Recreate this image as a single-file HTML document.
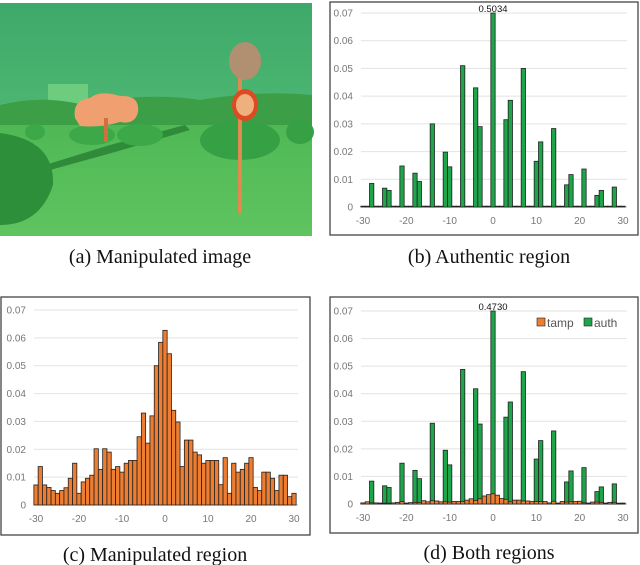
<!DOCTYPE html>
<html><head><meta charset="utf-8">
<style>
html,body{margin:0;padding:0;background:#fff;width:640px;height:565px;overflow:hidden}
svg{display:block}
.cap{font-family:"Liberation Serif",serif;font-size:20px;fill:#111}
.tk{font-family:"Liberation Sans",sans-serif;font-size:10px;fill:#777}
</style></head><body>
<svg id="fig" width="640" height="565" viewBox="0 0 640 565">
  <g id="photo">
    <defs>
      <linearGradient id="sky" x1="0" y1="0" x2="0" y2="1">
        <stop offset="0" stop-color="#3ea96a"/><stop offset="1" stop-color="#5cc47a"/>
      </linearGradient>
      <linearGradient id="grass" x1="0" y1="0" x2="0" y2="1">
        <stop offset="0" stop-color="#4fb855"/><stop offset="1" stop-color="#5fc45f"/>
      </linearGradient>
    </defs>
    <rect x="0" y="3" width="312" height="233" fill="url(#sky)"/>
    <rect x="48" y="84" width="40" height="28" fill="#6dcc7e"/>
    <path d="M0 105 Q40 95 80 104 Q150 92 200 100 Q260 90 312 95 L312 135 L0 135Z" fill="#3c9f48"/>
    <rect x="0" y="125" width="312" height="111" fill="url(#grass)"/>
    <path d="M45 165 L110 145 L185 125 L190 130 L115 152 L50 170Z" fill="#2f8a3a"/>
    <ellipse cx="92" cy="135" rx="23" ry="10" fill="#3da848"/>
    <ellipse cx="140" cy="135" rx="23" ry="11" fill="#3da848"/>
    <ellipse cx="35" cy="132" rx="10" ry="8" fill="#3da848"/>
    <ellipse cx="240" cy="140" rx="40" ry="20" fill="#36a044"/>
    <ellipse cx="300" cy="132" rx="14" ry="12" fill="#36a044"/>
    <path d="M0 133 Q55 140 53 185 Q40 225 0 225Z" fill="#2e8f3a"/>
    <g>
      <path d="M75 118 Q72 100 90 98 Q100 90 120 96 Q140 95 138 112 Q135 125 120 122 Q100 128 80 126Z" fill="#f0a070"/>
      <rect x="104" y="118" width="4" height="24" fill="#d0703e"/>
    </g>
    <g>
      <rect x="238" y="75" width="4" height="138" fill="#e08a50"/>
      <ellipse cx="245" cy="61" rx="16" ry="19" fill="#b09070"/>
      <ellipse cx="245" cy="105" rx="13" ry="16" fill="#e04a22"/>
      <ellipse cx="245" cy="105" rx="9" ry="11" fill="#efb080"/>
    </g>
  </g>
  <text class="cap" x="160" y="263" text-anchor="middle">(a) Manipulated image</text>
  <text class="cap" x="489" y="263" text-anchor="middle">(b) Authentic region</text>
  <text class="cap" x="155" y="561" text-anchor="middle">(c) Manipulated region</text>
  <text class="cap" x="489" y="559" text-anchor="middle">(d) Both regions</text>
  <g id="chartB"></g>
  <g id="chartC"></g>
  <g id="chartD"></g>
</svg>
<script>
const bins = []; for (let i=-30;i<=30;i++) bins.push(i);
const yTicks = [0,0.01,0.02,0.03,0.04,0.05,0.06,0.07];
const xTicks = [-30,-20,-10,0,10,20,30];
const authBins = [-28,-25,-24,-21,-18,-17,-14,-11,-10,-7,-4,-3,0,3,4,7,10,11,14,17,18,21,24,25,28];
const authB = [0.0085,0.0068,0.006,0.0148,0.0122,0.0092,0.030,0.0198,0.0145,0.051,0.043,0.029,0.5034,0.0315,0.0385,0.050,0.0165,0.0235,0.0283,0.008,0.0117,0.0137,0.0042,0.006,0.0072];
const authD = [0.0083,0.0066,0.006,0.0148,0.0122,0.0092,0.0293,0.0195,0.0142,0.0488,0.0418,0.029,0.4730,0.0315,0.037,0.048,0.0163,0.023,0.0265,0.008,0.012,0.0132,0.0045,0.0062,0.0073];
const tampC = [0.0072,0.0138,0.0072,0.0063,0.0052,0.0042,0.0052,0.0062,0.0096,0.015,0.0042,0.0083,0.0096,0.0107,0.0202,0.0128,0.0202,0.019,0.0128,0.0138,0.0118,0.015,0.016,0.016,0.0245,0.033,0.0222,0.032,0.05,0.0584,0.0627,0.0543,0.034,0.0298,0.0138,0.0233,0.0233,0.019,0.018,0.015,0.016,0.016,0.016,0.0073,0.017,0.0042,0.015,0.0118,0.0128,0.015,0.017,0.0063,0.0052,0.0118,0.0118,0.0096,0.0052,0.0107,0.0107,0.003,0.0042];
const tampD = [0.0004,0.0008,0.0004,0.0004,0.0003,0.0003,0.0003,0.0004,0.0006,0.0009,0.0003,0.0005,0.0006,0.0006,0.0012,0.0008,0.0012,0.0011,0.0008,0.0008,0.0007,0.0009,0.0009,0.0009,0.0014,0.0019,0.0013,0.0019,0.0029,0.0034,0.0037,0.0032,0.002,0.0017,0.0008,0.0014,0.0014,0.0011,0.0011,0.0009,0.0009,0.0009,0.0009,0.0004,0.001,0.0003,0.0009,0.0007,0.0008,0.0009,0.001,0.0004,0.0003,0.0007,0.0007,0.0006,0.0003,0.0006,0.0006,0.0002,0.0003];

const NS='http://www.w3.org/2000/svg';
function mk(tag, attrs, parent){const e=document.createElementNS(NS,tag);for(const k in attrs)e.setAttribute(k,attrs[k]);parent.appendChild(e);return e;}

function chart(g, box, plot, series, label, legend){
  const frame = mk('rect',{x:box[0],y:box[1],width:box[2],height:box[3],fill:'#fff',stroke:'#444','stroke-width':1.3},g);
  
  
  const xs = v => plot.x0 + (v+30)/60*(plot.x1-plot.x0);
  const ys = v => plot.y0 - Math.min(v,0.07)/0.07*(plot.y0-plot.y1);
  const bw = (plot.x1-plot.x0)/60;
  yTicks.forEach(t=>{
    const ln = mk('line',{x1:plot.x0-2,x2:plot.x1+4,y1:ys(t),y2:ys(t),stroke:t===0?'#bbb':'#e2e2e2','stroke-width':1},g);
    
    
    const tx = mk('text',{x:plot.x0-10,y:ys(t)+3.5,'text-anchor':'end',class:'tk'},g);
    tx.textContent = t===0?'0':t.toFixed(2);
    
    
  });
  xTicks.forEach(t=>{
    const tx = mk('text',{x:xs(t),y:plot.y0+17,'text-anchor':'middle',class:'tk'},g);
    tx.textContent = String(t);
    
    
  });
  series.forEach(s=>{
    s.values.forEach((v,i)=>{
      const c = s.cats[i];
      if (c === undefined) return;
      const r = mk('rect',{x:xs(c)-bw/2,y:ys(v),width:bw,height:Math.max(ys(0)-ys(v),0.6),fill:s.fill,stroke:'#222','stroke-width':0.8},g);
      
      
    });
  });
  if(label){
    const tx = mk('text',{x:xs(0),y:plot.y1-1,'text-anchor':'middle',style:'font-family:Liberation Sans,sans-serif;font-size:9.5px;fill:#111'},g);
    tx.textContent = label;
    
    
  }
  if(legend){
    const lg = mk('g',{},g);
    
    
    [['tamp','#ed7d31',537],['auth','#1ea54a',584]].forEach(([n,c,x])=>{
      const r = mk('rect',{x:x,y:318,width:8,height:8,fill:c,stroke:'#222','stroke-width':0.6},lg);
      
      
      const t = mk('text',{x:x+10,y:327,style:'font-family:Liberation Sans,sans-serif;font-size:12px;fill:#555'},lg);
      t.textContent = n;
      
      
    });
  }
}
const gB=document.getElementById('chartB'), gC=document.getElementById('chartC'), gD=document.getElementById('chartD');
chart(gB,[330,2,308,233],{x0:363,x1:623,y0:207,y1:13},
  [{name:'auth',cats:bins,values:bins.map(()=>0.0003),fill:'#1ea54a'},
   {name:'auth',cats:authBins,values:authB,fill:'#1ea54a'}],'0.5034',false);
chart(gC,[1,297,309,238],{x0:36,x1:294,y0:505,y1:310},
  [{name:'tamp',cats:bins,values:tampC,fill:'#ed7d31'}],null,false);
chart(gD,[330,297,308,236],{x0:363,x1:623,y0:504,y1:311},
  [{name:'auth-base',cats:bins,values:bins.map(()=>0.0003),fill:'#1ea54a'},
   {name:'auth',cats:authBins,values:authD,fill:'#1ea54a'},
   {name:'tamp',cats:bins,values:tampD,fill:'#ed7d31'}],'0.4730',true);
</script>
</body></html>
